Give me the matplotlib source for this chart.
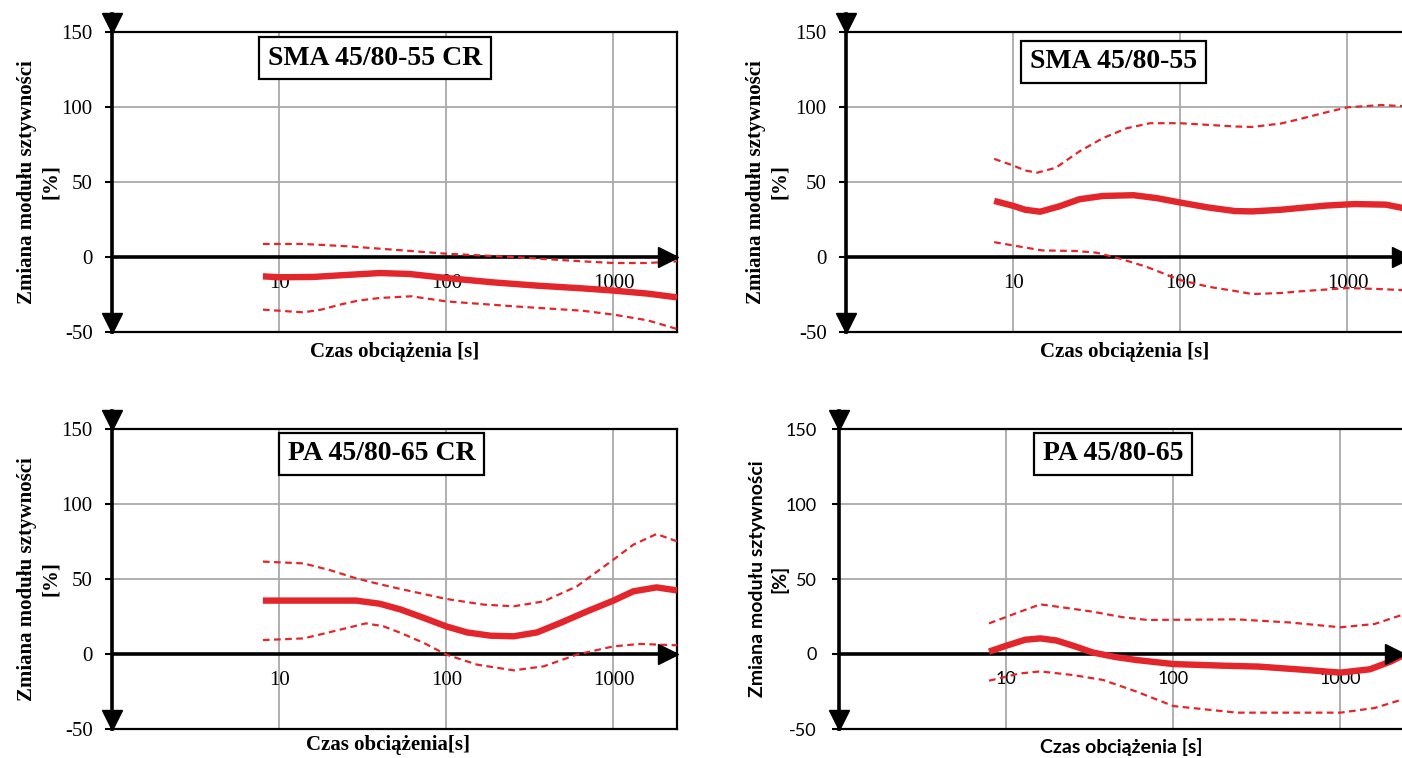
import matplotlib
matplotlib.use('Agg')
import matplotlib.pyplot as plt
import matplotlib.transforms as mtransforms
from matplotlib.ticker import NullLocator

# stiffness modulus change vs loading time, 4 binders
y_ticks = [150, 100, 50, 0, -50]
x_tick_vals = [10, 100, 1000]
grid_x = [10, 100, 1000]
grid_y = [50, 100]

titles = ['SMA 45/80-55 CR', 'SMA 45/80-55', 'PA 45/80-65 CR', 'PA 45/80-65']
xlabels = ['Czas obciążenia [s]', 'Czas obciążenia [s]', 'Czas obciążenia[s]', 'Czas obciążenia [s]']
ylabel = 'Zmiana modułu sztywności\n[%]'

# SMA 45/80-55 CR
sma_cr_x = [8, 10, 16, 25, 40, 60, 100, 190, 350, 650, 1000, 1600, 2400]
sma_cr_mean = [-12.9, -13.5, -13.3, -12, -10.7, -11.3, -14, -16.9, -19.1, -20.9, -22.4, -24.4, -26.9]
sma_cr_up_x = [8, 14, 26, 55, 100, 250, 650, 1000, 1600, 2400]
sma_cr_up = [8.7, 8.7, 7.1, 4.4, 2.2, 0, -2.9, -4, -4, -2.9]
sma_cr_lo_x = [8, 14, 18, 23, 30, 40, 62, 100, 255, 650, 1000, 1600, 2400]
sma_cr_lo = [-35.1, -36.9, -35, -31.8, -29, -27.3, -26.2, -29.6, -32.9, -35.8, -38.4, -42.2, -48]

# SMA 45/80-55
sma_x = [7.7, 10, 11.8, 14.5, 18.8, 24.9, 34.5, 52.5, 72.8, 100, 147, 213, 270, 400,
         520, 750, 1100, 1700, 2300, 2400]
sma_mean = [37.4, 34.1, 31.5, 30.2, 33.7, 38.5, 40.7, 41.2, 39.2, 36.3, 33, 30.6, 30.4, 31.5,
            32.7, 34.3, 35.3, 34.9, 32, 31.5]
sma_up_x = [7.7, 10, 11.8, 13.9, 18, 25, 34.5, 48, 66, 100, 213, 270, 400, 520, 750,
            1000, 1600, 2300, 2400]
sma_up = [65.4, 61, 57.7, 56.2, 59.5, 70.5, 79.3, 85.9, 89.2, 89.2, 87, 86.7, 89, 92, 96.5,
          99.8, 101.3, 100.4, 100]
sma_lo_x = [7.7, 10, 14.9, 23.7, 31.4, 43.6, 63, 100, 147, 213, 270, 400, 520, 1000,
            1500, 2300, 2400]
sma_lo = [9.9, 7.7, 4.4, 4, 2.9, -1.1, -6.6, -15.4, -19.8, -22.7, -24.7, -24, -22.9, -20.7,
          -21.3, -22.2, -22.3]

# PA 45/80-65 CR
pa_cr_x = [8, 10, 20, 29, 40, 53.5, 73.6, 100, 133, 184, 253, 349, 481, 694, 1000,
           1315, 1812, 2400]
pa_cr_mean = [35.6, 35.6, 35.6, 35.6, 33.5, 29.6, 24, 18.4, 14.4, 12.2, 11.8, 14.4, 20.7,
              28.4, 35.6, 41.8, 44.4, 42.4]
pa_cr_up_x = [8, 14, 20, 29, 40, 53.5, 100, 168, 253, 383, 604, 1000, 1315, 1812, 2400]
pa_cr_up = [61.6, 60.4, 56, 50.4, 46.5, 43.3, 36.7, 32.9, 31.8, 35.1, 45.1, 62.9, 72.9,
            80, 75.1]
pa_cr_lo_x = [8, 14, 20, 33, 42, 53.5, 73.6, 100, 153, 253, 383, 604, 1000, 1442, 2400]
pa_cr_lo = [9.3, 10.4, 14.5, 20.4, 18.5, 14, 7.3, -0.4, -7.1, -10.9, -8.2, -0.4, 5.1,
            6.7, 5.8]

# PA 45/80-65
pa_x = [7.9, 10, 13, 16, 20, 26, 33, 45, 60, 100, 200, 325, 600, 1000, 1500, 2000, 2400]
pa_mean = [1.6, 5.5, 9.5, 10.4, 9, 5, 1, -2, -4, -6.7, -7.8, -8.4, -10.5, -12.4, -10.2,
           -5, -0.5]
pa_up_x = [7.9, 12, 16, 22, 33, 50, 70, 240, 500, 1000, 1600, 2400]
pa_up = [20.4, 28, 33.1, 31, 28.2, 24.5, 22.7, 23.1, 21, 17.8, 20, 26.5]
pa_lo_x = [7.9, 12, 16, 25, 38, 60, 100, 240, 1000, 1600, 2400]
pa_lo = [-17.8, -13, -11.6, -14, -17.3, -25, -34.7, -39.1, -39.1, -36, -30]

RED = '#e3262b'
GRID = '#a9a9a9'
SERIF = ['Liberation Serif', 'DejaVu Serif']
SANS = ['Lato', 'DejaVu Sans']

W, H = 1402, 758
fig = plt.figure(figsize=(W / 100, H / 100), dpi=100)


def px_axes(left, top, width=565, height=300):
    return fig.add_axes([left / W, (H - top - height) / H, width / W, height / H])


def draw_panel(ax, title, box_xy, curves, xlabel, xlabel_xy, ylabel_x,
               serif=True):
    fam = SERIF if serif else SANS
    tick_fs = 15 if serif else 13
    lab_fs = 15 if serif else 14

    ax.set_xscale('log')
    ax.set_xlim(1, 2400)
    ax.set_ylim(-50, 150)
    ax.xaxis.set_major_locator(NullLocator())
    ax.xaxis.set_minor_locator(NullLocator())
    ax.set_yticks(y_ticks)
    ax.set_yticklabels([str(v) for v in y_ticks], family=fam, fontsize=tick_fs)
    ax.tick_params(axis='y', direction='out', length=5, width=1.5,
                   pad=9 if serif else 11, colors='k')

    for gx in grid_x:
        ax.axvline(gx, color=GRID, lw=1.3, zorder=1)
    for gy in grid_y:
        ax.axhline(gy, color=GRID, lw=1.3, zorder=1)

    for s in ['top', 'right', 'bottom']:
        ax.spines[s].set_linewidth(1.6)
        ax.spines[s].set_color('k')
    ax.spines['left'].set_visible(False)

    # thick y axis running above the frame, with arrow heads
    ax.plot([0, 0], [0, 1 + 18 / 300], transform=ax.transAxes, color='k',
            lw=2.6, clip_on=False, zorder=5)
    up = ax.transAxes + mtransforms.ScaledTranslation(0, 9 / 100, fig.dpi_scale_trans)
    ax.plot([0], [1], marker='v', ms=14, color='k', transform=up,
            clip_on=False, zorder=6)
    ax.plot([0], [0], marker='v', ms=14, color='k', transform=up,
            clip_on=False, zorder=6)

    # x axis at zero with arrow head
    ax.axhline(0, color='k', lw=2.6, zorder=4)
    blend = mtransforms.blended_transform_factory(ax.transAxes, ax.transData)
    left = blend + mtransforms.ScaledTranslation(-9 / 100, 0, fig.dpi_scale_trans)
    ax.plot([1], [0], marker='>', ms=14, color='k', transform=left,
            clip_on=False, zorder=6)
    for v in x_tick_vals:
        ax.annotate(str(v), (v, 0), xytext=(0, -12), textcoords='offset points',
                    ha='center', va='top', family=fam, fontsize=tick_fs,
                    zorder=3)

    for (cx, cy, kind) in curves:
        if kind == 'mean':
            ax.plot(cx, cy, color=RED, lw=4.6, zorder=5, solid_capstyle='butt',
                    solid_joinstyle='round')
        else:
            ax.plot(cx, cy, color=RED, lw=1.6, dashes=(3, 2), zorder=5,
                    dash_joinstyle='round')

    ax.text(box_xy[0], box_xy[1], title, transform=ax.transAxes,
            ha='center', va='center', family=SERIF, fontsize=20,
            fontweight='bold', zorder=7,
            bbox=dict(boxstyle='square,pad=0.32', fc='white', ec='k', lw=1.6))

    ax.set_xlabel(xlabel, family=fam, fontsize=lab_fs, fontweight='bold',
                  va='center')
    ax.xaxis.set_label_coords(*xlabel_xy)
    ax.set_ylabel(ylabel, family=fam, fontsize=lab_fs, fontweight='bold',
                  va='center', linespacing=1.3)
    ax.yaxis.set_label_coords(ylabel_x, 0.5)


ax1 = px_axes(112, 32)
ax2 = px_axes(846, 32)
ax3 = px_axes(112, 429)
ax4 = px_axes(839, 429)

draw_panel(ax1, titles[0], (0.465, 0.913),
           [(sma_cr_x, sma_cr_mean, 'mean'), (sma_cr_up_x, sma_cr_up, 'band'),
            (sma_cr_lo_x, sma_cr_lo, 'band')],
           xlabels[0], (0.50, -0.067), -0.129)
draw_panel(ax2, titles[1], (0.473, 0.90),
           [(sma_x, sma_mean, 'mean'), (sma_up_x, sma_up, 'band'),
            (sma_lo_x, sma_lo, 'band')],
           xlabels[1], (0.494, -0.067), -0.138)
draw_panel(ax3, titles[2], (0.477, 0.917),
           [(pa_cr_x, pa_cr_mean, 'mean'), (pa_cr_up_x, pa_cr_up, 'band'),
            (pa_cr_lo_x, pa_cr_lo, 'band')],
           xlabels[2], (0.488, -0.053), -0.129)
draw_panel(ax4, titles[3], (0.485, 0.917),
           [(pa_x, pa_mean, 'mean'), (pa_up_x, pa_up, 'band'),
            (pa_lo_x, pa_lo, 'band')],
           xlabels[3], (0.499, -0.06), -0.124, serif=False)

fig.savefig('out.png', dpi=100)
